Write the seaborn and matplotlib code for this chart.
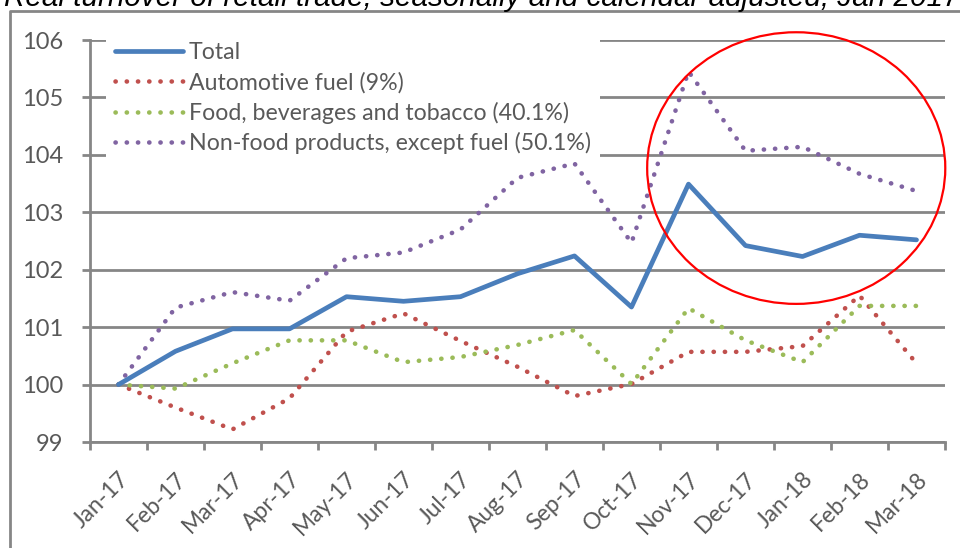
import numpy as np
import pandas as pd
import matplotlib
matplotlib.use('Agg')
import matplotlib.pyplot as plt
import seaborn as sns
from matplotlib.patches import Ellipse
from matplotlib.lines import Line2D

# Dados
meses = ['Jan-17', 'Feb-17', 'Mar-17', 'Apr-17', 'May-17', 'Jun-17', 'Jul-17', 'Aug-17',
         'Sep-17', 'Oct-17', 'Nov-17', 'Dec-17', 'Jan-18', 'Feb-18', 'Mar-18']
total = [100.0, 100.58, 100.97, 100.97, 101.53, 101.45, 101.53, 101.93,
         102.24, 101.35, 103.49, 102.42, 102.23, 102.6, 102.52]
combustivel = [100.0, 99.6, 99.22, 99.76, 100.92, 101.24, 100.76, 100.31,
               99.8, 100.01, 100.57, 100.57, 100.67, 101.55, 100.37]
alimentos = [100.0, 99.93, 100.37, 100.77, 100.77, 100.39, 100.48, 100.69,
             100.95, 100.01, 101.33, 100.77, 100.39, 101.37, 101.37]
nao_alimentos = [100.0, 101.34, 101.61, 101.46, 102.2, 102.3, 102.7, 103.6,
                 103.85, 102.47, 105.45, 104.07, 104.14, 103.67, 103.37]

series = [
    ('Total', total, '#4A7EBB', '-'),
    ('Automotive fuel (9%)', combustivel, '#C0504D', ':'),
    ('Food, beverages and tobacco (40.1%)', alimentos, '#9BBB59', ':'),
    ('Non-food products, except fuel (50.1%)', nao_alimentos, '#8064A2', ':'),
]

sns.set_style('white')
plt.rcParams['font.family'] = ['Lato', 'DejaVu Sans']

cinza = '#868686'
texto = '#595959'

fig = plt.figure(figsize=(9.6, 5.48), dpi=100)
ax = fig.add_axes([90 / 960, 1 - 442 / 548, 855 / 960, 402 / 548])

# linhas acima da caixa da legenda (zorder 5), que só deve esconder a grade
for nome, valores, cor, estilo in series:
    df = pd.DataFrame({'mes': meses, 'valor': valores})
    if estilo == '-':
        sns.lineplot(data=df, x='mes', y='valor', ax=ax, color=cor, lw=3.4,
                     label=nome, solid_capstyle='round', zorder=6.5)
    else:
        sns.lineplot(data=df, x='mes', y='valor', ax=ax, color=cor, lw=3.3,
                     linestyle=(0, (0.05, 2.4)), dash_capstyle='round',
                     label=nome, zorder=6)

ax.set_xlim(-0.5, len(meses) - 0.5)
ax.set_ylim(99, 106)
ax.set_yticks(range(99, 107))
ax.set_xticks(range(len(meses)))
ax.set_xticklabels(meses)
ax.set_xticks(np.arange(-0.5, len(meses)), minor=True)
ax.set_xlabel('')
ax.set_ylabel('')

ax.grid(axis='y', color=cinza, lw=2)
ax.set_axisbelow(True)
for lado in ['top', 'right']:
    ax.spines[lado].set_visible(False)
for lado in ['left', 'bottom']:
    ax.spines[lado].set_color(cinza)
    ax.spines[lado].set_linewidth(2)

ax.tick_params(axis='y', which='major', left=True, length=6, width=2, color=cinza,
               labelcolor=texto, labelsize=17, pad=13)
ax.tick_params(axis='x', which='major', bottom=False, length=0, labelcolor=texto,
               labelsize=16.5, pad=19)
ax.tick_params(axis='x', which='minor', bottom=True, length=6, width=2, color=cinza)
for rotulo in ax.get_xticklabels():
    rotulo.set_rotation(45)
    rotulo.set_ha('right')
    rotulo.set_rotation_mode('anchor')

leg = ax.legend(loc='upper left', bbox_to_anchor=(0.0187, 1.018), frameon=True,
                facecolor='white', edgecolor='none', framealpha=1, fontsize=16.7,
                handlelength=2.9, handletextpad=0.28, labelspacing=0.37,
                borderpad=0.4, borderaxespad=0)
for t in leg.get_texts():
    t.set_color(texto)

# Círculo vermelho de destaque
circulo = Ellipse((11.89, 103.77), 5.23, 4.73, fill=False, edgecolor='red',
                  lw=1.6, clip_on=False, zorder=7)
ax.add_patch(circulo)

# Moldura e título cortado
fig.add_artist(Line2D([10 / 960, 10 / 960, 1.0], [0.0, 1 - 11 / 548, 1 - 11 / 548],
                      transform=fig.transFigure, color=cinza, lw=2))
fig.text(4 / 960, 1 - 6 / 548,
         'Real turnover of retail trade, seasonally and calendar adjusted, Jan 2017',
         fontsize=21.3, style='italic', color='black', va='baseline', ha='left',
         family=['Liberation Sans', 'DejaVu Sans'])

plt.savefig('out.png', dpi=100)
